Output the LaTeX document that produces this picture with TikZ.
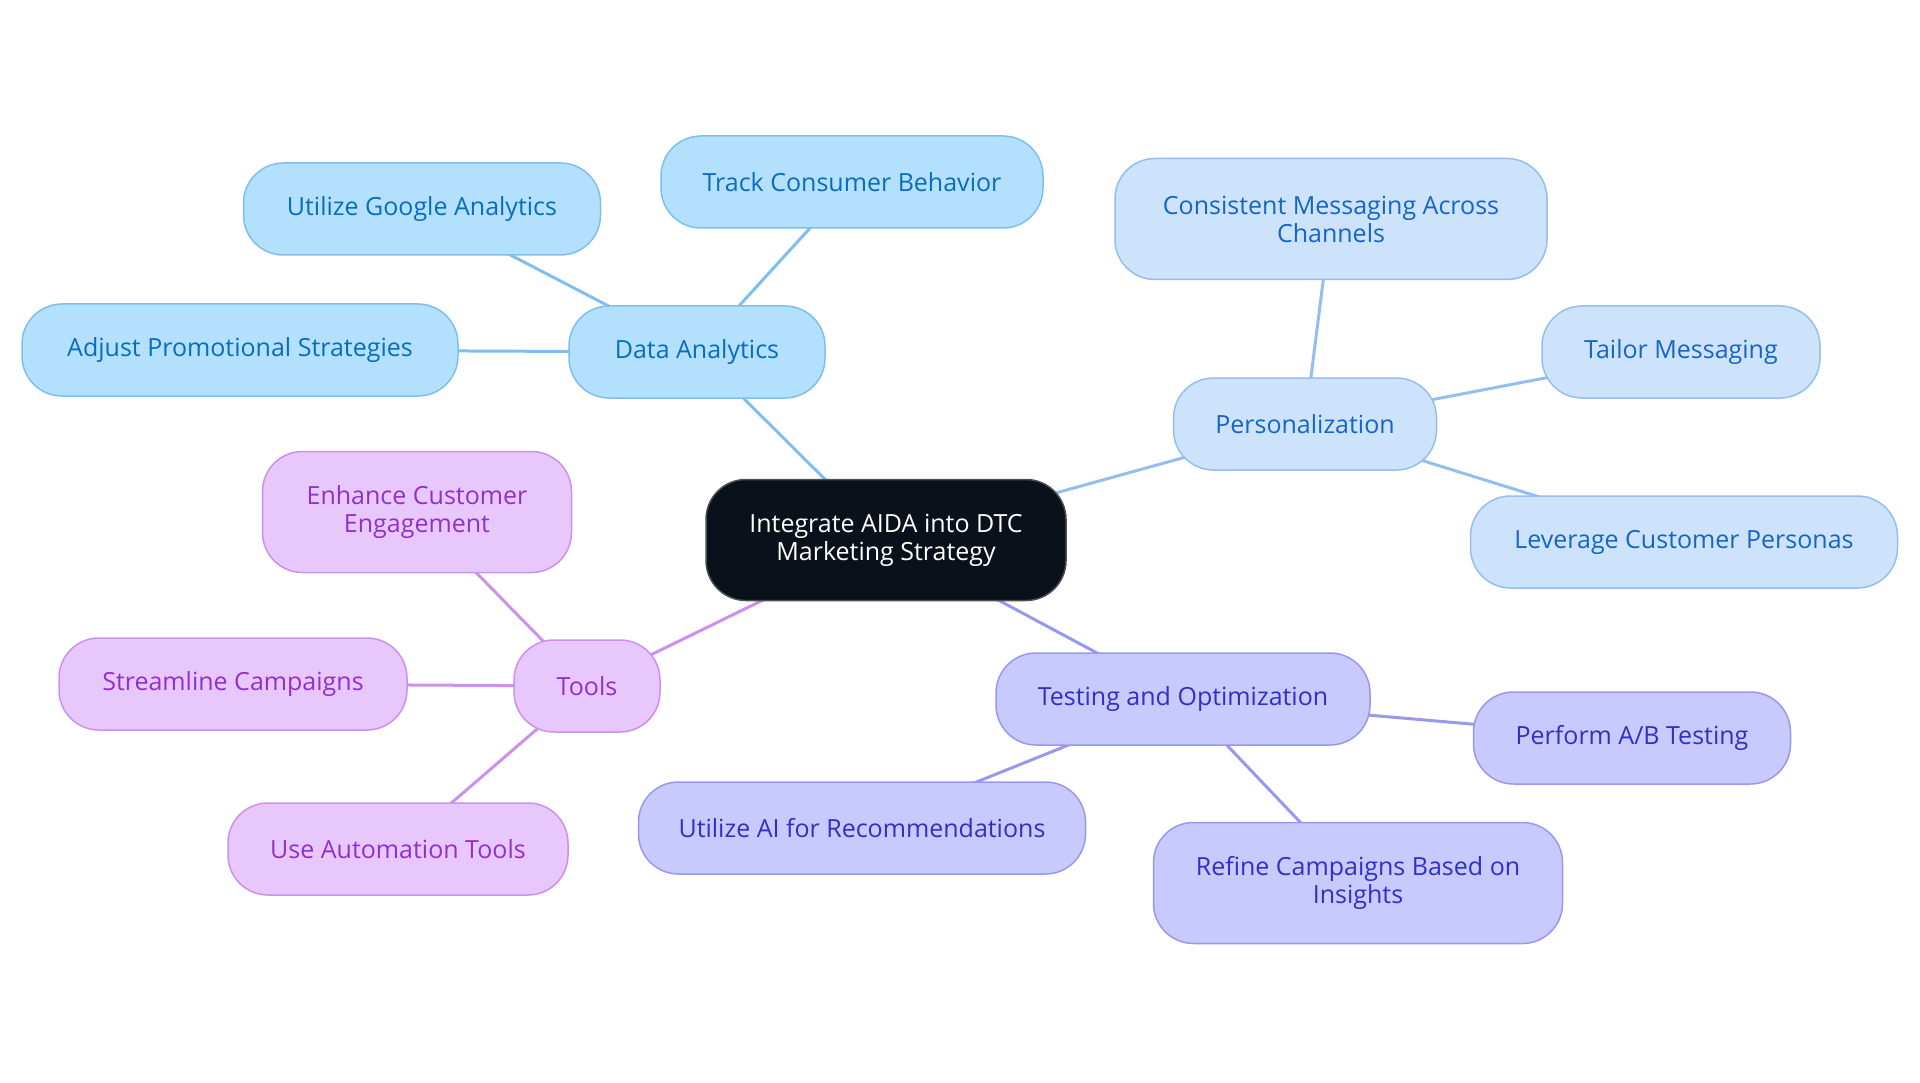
\documentclass[tikz,border=0pt]{standalone}
\usepackage{fontspec}
\setmainfont{Open Sans}
\usetikzlibrary{backgrounds}
\definecolor{cdark}{HTML}{0B111A}
\definecolor{cdarkb}{HTML}{4A4F55}
\definecolor{bfill}{HTML}{B3E0FD}
\definecolor{bdraw}{HTML}{7DC0F0}
\definecolor{btext}{HTML}{0A6CC0}
\definecolor{pfill}{HTML}{CDE3FB}
\definecolor{pdraw}{HTML}{94BEF0}
\definecolor{ptext}{HTML}{1565C8}
\definecolor{tfill}{HTML}{E8C8FC}
\definecolor{tdraw}{HTML}{CC90EE}
\definecolor{ttext}{HTML}{9030D0}
\definecolor{ofill}{HTML}{C8C9FD}
\definecolor{odraw}{HTML}{9899EE}
\definecolor{otext}{HTML}{3030C8}
\tikzset{
  box/.style={rounded corners=40pt, line width=1.5pt, align=center,
    inner sep=0pt, font=\fontsize{25}{28}\selectfont, minimum height=92pt},
  dbox/.style={box, fill=cdark, draw=cdarkb, text=white, minimum height=121pt},
  bbox/.style={box, fill=bfill, draw=bdraw, text=btext},
  pbox/.style={box, fill=pfill, draw=pdraw, text=ptext},
  tbox/.style={box, fill=tfill, draw=tdraw, text=ttext},
  obox/.style={box, fill=ofill, draw=odraw, text=otext},
  tall/.style={minimum height=121pt},
  bedge/.style={draw=bdraw, line width=3pt},
  pedge/.style={draw=pdraw, line width=3pt},
  tedge/.style={draw=tdraw, line width=3pt},
  oedge/.style={draw=odraw, line width=3pt},
}
\begin{document}
\begin{tikzpicture}[x=1pt,y=-1pt]
\path[use as bounding box] (0,0) rectangle (1920,1083);
\node[dbox, minimum width=360pt] (c) at (886,540) {Integrate AIDA into DTC\\Marketing Strategy};
\node[bbox, minimum width=256pt] (da) at (697,352) {Data Analytics};
\node[bbox, minimum width=382pt] (tcb) at (852,182) {Track Consumer Behavior};
\node[bbox, minimum width=357pt] (uga) at (422,209) {Utilize Google Analytics};
\node[bbox, minimum width=436pt] (aps) at (240,350) {Adjust Promotional Strategies};
\node[pbox, minimum width=263pt] (pe) at (1305,424) {Personalization};
\node[pbox, tall, minimum width=432pt] (cm) at (1331,219) {Consistent Messaging Across\\Channels};
\node[pbox, minimum width=278pt] (tm) at (1681,352) {Tailor Messaging};
\node[pbox, minimum width=427pt] (lcp) at (1684,542) {Leverage Customer Personas};
\node[tbox, minimum width=146pt] (to) at (587,686) {Tools};
\node[tbox, tall, minimum width=309pt] (ece) at (417,512) {Enhance Customer\\Engagement};
\node[tbox, minimum width=348pt] (sc) at (233,684) {Streamline Campaigns};
\node[tbox, minimum width=340pt] (uat) at (398,849) {Use Automation Tools};
\node[obox, minimum width=374pt] (tao) at (1183,699) {Testing and Optimization};
\node[obox, minimum width=317pt] (ab) at (1632,738) {Perform A/B Testing};
\node[obox, minimum width=447pt] (uai) at (862,828) {Utilize AI for Recommendations};
\node[obox, tall, minimum width=409pt] (rc) at (1358,883) {Refine Campaigns Based on\\Insights};
\begin{pgfonlayer}{background}
\draw[bedge] (c.center) -- (da.center);
\draw[bedge] (da.center) -- (tcb.center);
\draw[bedge] (da.center) -- (uga.center);
\draw[bedge] (da.center) -- (aps.center);
\draw[pedge] (c.center) -- (pe.center);
\draw[pedge] (pe.center) -- (cm.center);
\draw[pedge] (pe.center) -- (tm.center);
\draw[pedge] (pe.center) -- (lcp.center);
\draw[tedge] (c.center) -- (to.center);
\draw[tedge] (to.center) -- (ece.center);
\draw[tedge] (to.center) -- (sc.center);
\draw[tedge] (to.center) -- (uat.center);
\draw[oedge] (c.center) -- (tao.center);
\draw[oedge] (tao.center) -- (ab.center);
\draw[oedge] (tao.center) -- (uai.center);
\draw[oedge] (tao.center) -- (rc.center);
\end{pgfonlayer}
\end{tikzpicture}
\end{document}
